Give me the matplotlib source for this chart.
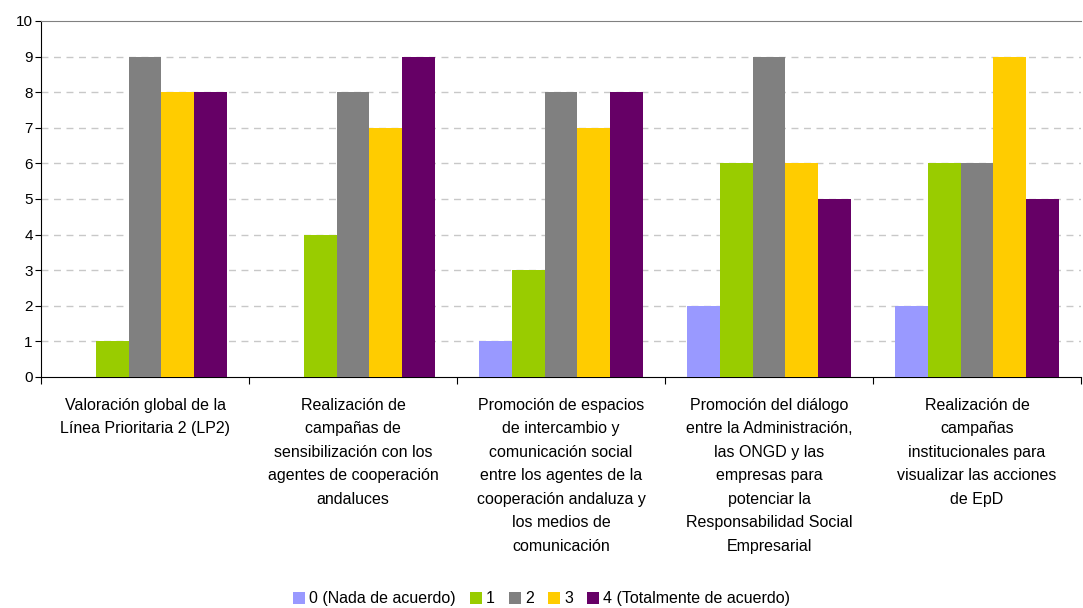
import numpy as np
import matplotlib
matplotlib.use("Agg")
import matplotlib.pyplot as plt

plt.rcParams['font.family'] = ['Liberation Sans', 'DejaVu Sans']

categorias = [
    "Valoración global de la\nLínea Prioritaria 2 (LP2)",
    "Realización de\ncampañas de\nsensibilización con los\nagentes de cooperación\nandaluces",
    "Promoción de espacios\nde intercambio y\ncomunicación social\nentre los agentes de la\ncooperación andaluza y\nlos medios de\ncomunicación",
    "Promoción del diálogo\nentre la Administración,\nlas ONGD y las\nempresas para\npotenciar la\nResponsabilidad Social\nEmpresarial",
    "Realización de\ncampañas\ninstitucionales para\nvisualizar las acciones\nde EpD",
]
series = ["0 (Nada de acuerdo)", "1", "2", "3", "4 (Totalmente de acuerdo)"]
v0 = [0, 0, 1, 2, 2]
v1 = [1, 4, 3, 6, 6]
v2 = [9, 8, 8, 9, 6]
v3 = [8, 7, 7, 6, 9]
v4 = [8, 9, 8, 5, 5]
valores = [v0, v1, v2, v3, v4]
colores = ["#9999FF", "#99CC00", "#808080", "#FFCC00", "#660066"]

fig = plt.figure(figsize=(10.83, 6.08), dpi=100)
ax = fig.add_axes([0.0379, 0.380, 0.9603, 0.5855])

x = np.arange(len(categorias))
ancho = 0.158
for i, (vals, col, nom) in enumerate(zip(valores, colores, series)):
    ax.bar(x + (i - 2) * ancho, vals, ancho, color=col, label=nom, zorder=3)

ax.set_xlim(-0.5, len(categorias) - 0.5)
ax.set_ylim(0, 10)
ax.set_yticks(range(0, 11))
ax.tick_params(axis='y', labelsize=11, length=4, pad=2)
ax.set_xticks(np.arange(-0.5, len(categorias), 1.0), minor=False)
ax.set_xticklabels([])
ax.tick_params(axis='x', length=5, direction='out')
ax.set_xticks(x, minor=True)
ax.set_xticklabels(categorias, minor=True, fontsize=11.5, linespacing=1.71)
ax.tick_params(axis='x', which='minor', length=0, pad=15)

for y in range(1, 10):
    ax.axhline(y, color="#C8C8C8", lw=1, dashes=(5, 4), zorder=1)

ax.spines['right'].set_visible(False)
ax.spines['top'].set_color("#808080")
ax.spines['left'].set_color("black")
ax.spines['bottom'].set_color("black")

fig.legend(loc='lower center', bbox_to_anchor=(0.5, -0.021), ncol=5, frameon=False,
           fontsize=11.5, handlelength=0.75, handleheight=0.75, handletextpad=0.25,
           columnspacing=0.9)

fig.savefig("out.png", dpi=100)
